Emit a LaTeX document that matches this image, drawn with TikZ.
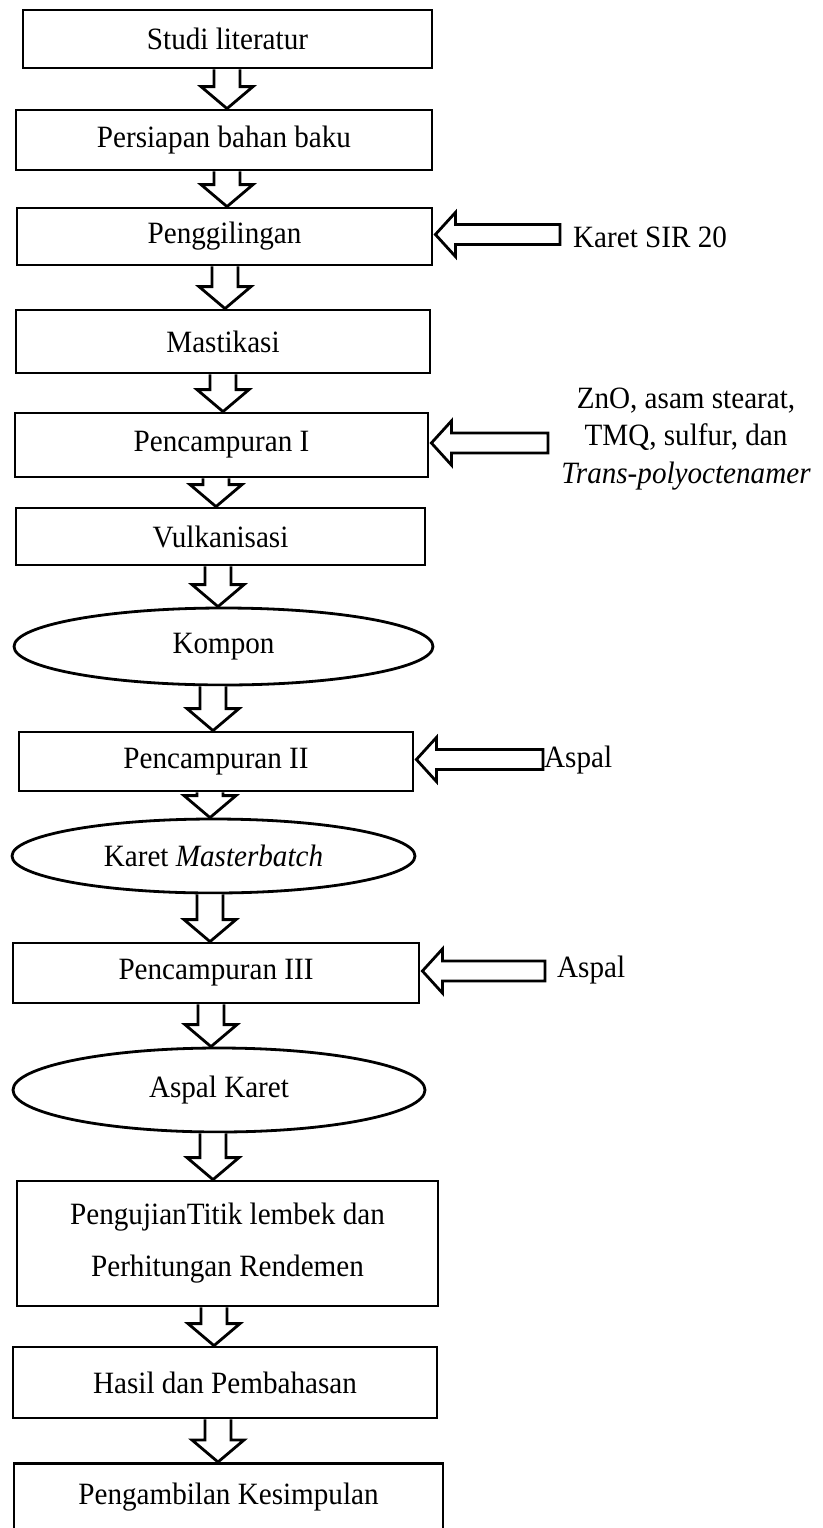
\documentclass[tikz,border=0pt]{standalone}
\usepackage{fontspec}
\setmainfont[FakeStretch=0.94]{Liberation Serif}
\usetikzlibrary{calc,shapes.geometric}
\tikzset{
  lw/.style={line width=2.8pt},
  procbox/.style={draw, lw, rectangle, inner sep=0pt, font=\fontsize{31}{52}\selectfont, align=center},
  termell/.style={draw, lw, ellipse, inner sep=0pt, font=\fontsize{31}{36}\selectfont},
  blockarrow/.style={draw, lw, fill=white, line join=miter},
  sidetext/.style={inner sep=0pt, font=\fontsize{31}{37.5}\selectfont, align=center},
}
\newcommand\flowdown[3]{%
  \draw[blockarrow] let \p1=(#1.south), \p2=(#2.north) in
    (#3pt-13pt,\y1) -- (#3pt-13pt,\y2+22pt) -- (#3pt-26pt,\y2+22pt) -- (#3pt,\y2)
    -- (#3pt+26pt,\y2+22pt) -- (#3pt+13pt,\y2+22pt) -- (#3pt+13pt,\y1);}
\newcommand\flowleft[2]{%
  \draw[blockarrow] let \p1=($(#1.east)+(2pt,2pt)$) in
    (#2pt,\y1-10pt) -- (\x1+20pt,\y1-10pt) -- (\x1+20pt,\y1-22pt) -- (\x1,\y1)
    -- (\x1+20pt,\y1+22pt) -- (\x1+20pt,\y1+10pt) -- (#2pt,\y1+10pt) -- cycle;}
\begin{document}
\begin{tikzpicture}[x=1pt,y=-1pt]
\useasboundingbox (0,0) rectangle (822,1528);
\clip (0,0) rectangle (822,1528);
\fill[white] (0,0) rectangle (822,1528);

\node[procbox, minimum width=409, minimum height=58] (b1) at (227.5,39) {Studi literatur};
\node[procbox, minimum width=416, minimum height=60] (b2) at (224,140) {Persiapan bahan baku};
\node[procbox, minimum width=415, minimum height=57] (b3) at (224.5,236.5) {Penggilingan};
\node[procbox, minimum width=414, minimum height=63] (b4) at (223,341.5) {Mastikasi};
\node[procbox, minimum width=413, minimum height=64] (b5) at (221.5,445) {Pencampuran I};
\node[procbox, minimum width=409, minimum height=57] (b6) at (220.5,536.5) {Vulkanisasi};
\node[termell, minimum width=419, minimum height=77] (e1) at (223.5,646.5) {Kompon};
\node[procbox, minimum width=394, minimum height=59] (b7) at (216,761.5) {Pencampuran II};
\node[termell, minimum width=403, minimum height=74] (e2) at (213.5,856) {Karet \textit{Masterbatch}};
\node[procbox, minimum width=406, minimum height=60] (b8) at (216,973) {Pencampuran III};
\node[termell, minimum width=412, minimum height=84] (e3) at (219,1090) {Aspal Karet};
\node[procbox, minimum width=421, minimum height=125] (b9) at (227.5,1243.5) {PengujianTitik lembek dan\\Perhitungan Rendemen};
\node[procbox, minimum width=424, minimum height=71] (b10) at (225,1382.5) {Hasil dan Pembahasan};
\node[draw, lw, rectangle, inner sep=0pt, font=\fontsize{31}{36}\selectfont,
      minimum width=429, text height=41pt, text depth=100pt, anchor=north] (b11) at (228.5,1462) {Pengambilan Kesimpulan};

\flowdown{b1}{b2}{227}
\flowdown{b2}{b3}{227}
\flowdown{b3}{b4}{225}
\flowdown{b4}{b5}{223}
\flowdown{b5}{b6}{216}
\flowdown{b6}{e1}{218}
\flowdown{e1}{b7}{213}
\flowdown{b7}{e2}{210}
\flowdown{e2}{b8}{210}
\flowdown{b8}{e3}{211}
\flowdown{e3}{b9}{213}
\flowdown{b9}{b10}{214}
\flowdown{b10}{b11}{218}

\node[sidetext, anchor=west] (t1) at (573,237) {Karet SIR 20};
\node[sidetext] (t2) at (686,439) {ZnO, asam stearat,\\TMQ, sulfur, dan\\\textit{Trans-polyoctenamer}};
\node[sidetext, anchor=west] (t3) at (544,760) {Aspal};
\node[sidetext, anchor=west] (t4) at (557,970) {Aspal};

\flowleft{b3}{560}
\flowleft{b5}{548}
\flowleft{b7}{543}
\flowleft{b8}{545}
\end{tikzpicture}
\end{document}
